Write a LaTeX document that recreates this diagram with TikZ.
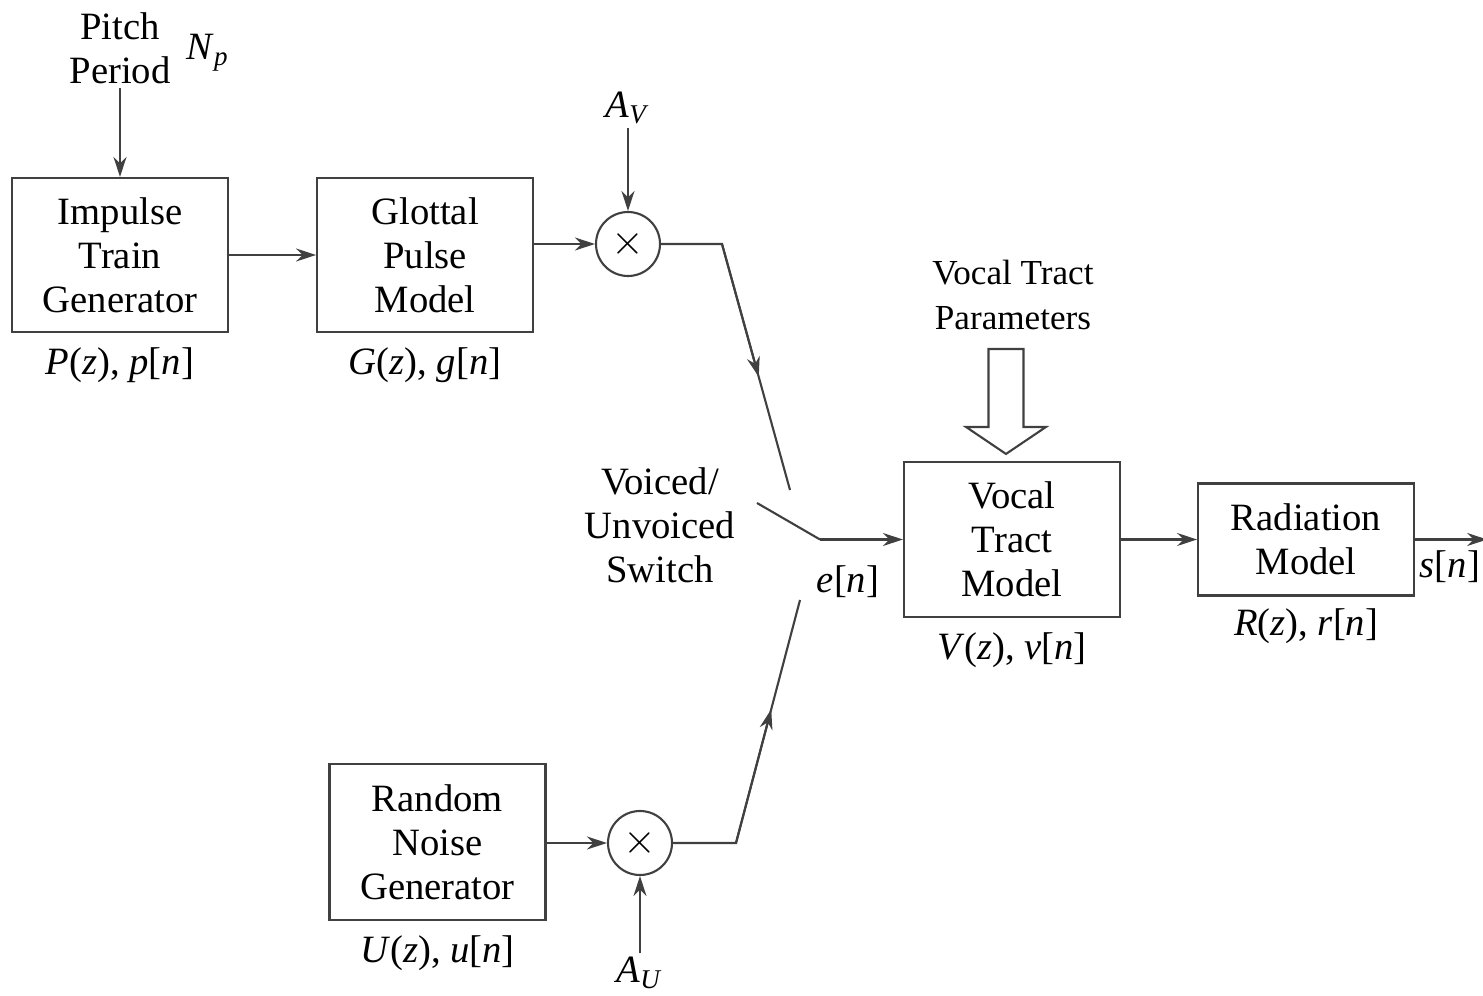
\documentclass[tikz,border=0pt]{standalone}
\usepackage{fontspec}
\setmainfont{Liberation Serif}
\usetikzlibrary{arrows.meta, positioning, calc}

\newcommand{\iv}[1]{\textit{#1}}

\begin{document}
\begin{tikzpicture}[
    node distance=0.8cm and 1.0cm,
    block/.style={rectangle, draw=black!75, semithick, minimum width=2.16cm, minimum height=1.54cm, align=center, font=\fontsize{11}{12.5}\selectfont},
    mult/.style={circle, draw=black!75, semithick, minimum size=0.64cm, inner sep=0pt, font=\large},
    sig/.style={font=\fontsize{11}{12.5}\selectfont, align=center, inner sep=1pt},
    arrow/.style={-{Stealth[length=2mm, width=1.3mm]}, semithick, color=black!75},
    wire/.style={semithick, color=black!75},
]
\useasboundingbox (0,0) rectangle (14.83,9.95);

% voiced branch
\node[block] (impulse) at (1.20,7.40) {Impulse\\Train\\Generator};
\node[block, right=0.87cm of impulse] (glottal) {Glottal\\Pulse\\Model};
\node[mult] (multv) at (6.28,7.51) {$\times$};
\node[sig, below=0.10cm of impulse] (pz) {\iv{P}(\iv{z}), \iv{p}[\iv{n}]};
\node[sig, below=0.10cm of glottal] (gz) {\iv{G}(\iv{z}), \iv{g}[\iv{n}]};
\node[sig] (pitch) at (1.20,9.47) {Pitch\\Period};
\node[sig] (np) at (2.08,9.42) {\iv{N}\textsubscript{\iv{p}}};
\node[sig] (av) at (6.28,8.87) {\iv{A}\textsubscript{\iv{V}}};

% unvoiced branch
\node[block, minimum height=1.56cm] (noise) at (4.375,1.53) {Random\\Noise\\Generator};
\node[mult] (multu) at (6.40,1.52) {$\times$};
\node[sig, below=0.10cm of noise] (uz) {\iv{U}(\iv{z}), \iv{u}[\iv{n}]};
\node[sig] (au) at (6.40,0.22) {\iv{A}\textsubscript{\iv{U}}};

% switch
\coordinate (vbend) at (7.22,7.51);
\coordinate (vtop) at (7.90,5.05);
\coordinate (ubend) at (7.36,1.52);
\coordinate (ubot) at (8.00,3.95);
\coordinate (swtip) at (7.57,4.92);
\coordinate (swpivot) at (8.20,4.555);
\node[sig] (switch) at (6.60,4.70) {Voiced/\\Unvoiced\\Switch};
\node[sig] (en) at (8.48,4.13) {\iv{e}[\iv{n}]};

% vocal tract and radiation
\node[block, minimum height=1.55cm] (vocal) at (10.12,4.555) {Vocal\\Tract\\Model};
\node[block, minimum height=1.12cm, right=0.76cm of vocal] (rad) {Radiation\\Model};
\node[sig, below=0.10cm of vocal] (vz) {\iv{V}(\iv{z}), \iv{v}[\iv{n}]};
\node[sig, below=0.08cm of rad] (rz) {\iv{R}(\iv{z}), \iv{r}[\iv{n}]};
\node[sig, font=\fontsize{10}{13}\selectfont] (params) at (10.13,7.00) {Vocal Tract\\Parameters};
\coordinate[right=0.72cm of rad.east] (sout);
\node[sig] (sn) at (14.50,4.28) {\iv{s}[\iv{n}]};

\draw[arrow] (pitch) -- (impulse);
\draw[arrow] (impulse) -- (glottal);
\draw[arrow] (glottal.east |- multv) -- (multv);
\draw[arrow] (av) -- (multv);
\draw[wire] (multv) -- (vbend) -- (vtop);
\draw[arrow] (vbend) -- ($(vbend)!0.54!(vtop)$);

\draw[arrow] (noise.east |- multu) -- (multu);
\draw[arrow] (au) -- (multu);
\draw[wire] (multu) -- (ubend) -- (ubot);
\draw[arrow] (ubend) -- ($(ubend)!0.55!(ubot)$);

\draw[wire] (swtip) -- (swpivot);
\draw[arrow] (swpivot) -- (vocal);
\draw[arrow] (vocal) -- (rad);
\draw[arrow] (rad) -- (sout);

% hollow parameter arrow
\draw[wire] ([shift={(-0.235,1.12)}]vocal.north) -- ([shift={(-0.235,0.34)}]vocal.north)
    -- ([shift={(-0.46,0.34)}]vocal.north) -- ([shift={(-0.06,0.07)}]vocal.north)
    -- ([shift={(0.34,0.34)}]vocal.north) -- ([shift={(0.115,0.34)}]vocal.north)
    -- ([shift={(0.115,1.12)}]vocal.north) -- cycle;

\end{tikzpicture}
\end{document}
